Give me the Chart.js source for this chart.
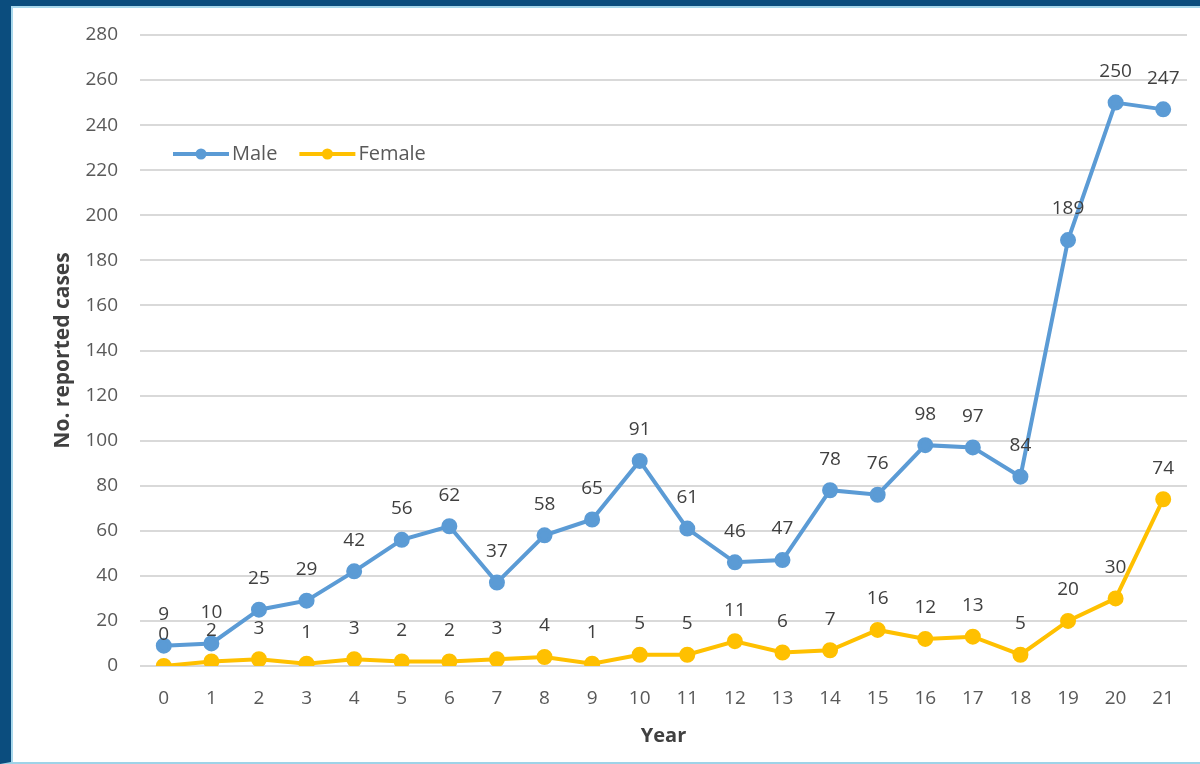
<!DOCTYPE html>
<html>
<head>
<meta charset="utf-8">
<script src="https://cdn.jsdelivr.net/npm/chart.js@4"></script>
<style>
  html, body { margin: 0; padding: 0; background: #fff; }
  #frame {
    position: absolute; left: 0; top: 0; width: 1200px; height: 764px;
    box-sizing: border-box;
    border-left: 11px solid #0b4d7e; border-top: 6px solid #0b4d7e;
    border-bottom: 2px solid #9ed3e8;
  }
  #inner {
    position: absolute; left: 0; top: 0; right: 0; bottom: 0;
    border-left: 2px solid #a8d8ec; border-top: 2px solid #a8d8ec;
  }
  #wrap { position: absolute; left: 0; top: 0; width: 1200px; height: 764px; }
</style>
</head>
<body>
<div id="frame"><div id="inner"></div></div>
<div id="wrap"><canvas id="chart"></canvas></div>
<script>
// data
var years = ["0","1","2","3","4","5","6","7","8","9","10","11","12","13","14","15","16","17","18","19","20","21"];
var male = [9, 10, 25, 29, 42, 56, 62, 37, 58, 65, 91, 61, 46, 47, 78, 76, 98, 97, 84, 189, 250, 247];
var female = [0, 2, 3, 1, 3, 2, 2, 3, 4, 1, 5, 5, 11, 6, 7, 16, 12, 13, 5, 20, 30, 74];
var seriesNames = ["Male", "Female"];

var FONT = "'Open Sans', 'Liberation Sans', sans-serif";

// value labels above each point
var pointLabels = {
    id: "pointLabels",
    afterDatasetsDraw: function (chart) {
        var ctx = chart.ctx;
        ctx.save();
        ctx.font = "19px " + FONT;
        ctx.fillStyle = "#404040";
        ctx.textAlign = "center";
        ctx.textBaseline = "middle";
        chart.data.datasets.forEach(function (ds, i) {
            chart.getDatasetMeta(i).data.forEach(function (el, j) {
                ctx.fillText(String(ds.data[j]), el.x, el.y - 31);
            });
        });
        ctx.restore();
    }
};

// legend drawn inside the plot, top left
var innerLegend = {
    id: "innerLegend",
    afterDraw: function (chart) {
        var ctx = chart.ctx;
        var a = chart.chartArea;
        var x = a.left + 33, y = 154;
        ctx.save();
        ctx.font = "20px " + FONT;
        ctx.textBaseline = "middle";
        chart.data.datasets.forEach(function (ds) {
            ctx.strokeStyle = ds.borderColor;
            ctx.lineWidth = 4;
            ctx.beginPath();
            ctx.moveTo(x, y);
            ctx.lineTo(x + 56, y);
            ctx.stroke();
            ctx.fillStyle = ds.borderColor;
            ctx.beginPath();
            ctx.arc(x + 28, y, 5.5, 0, Math.PI * 2);
            ctx.fill();
            ctx.fillStyle = "#595959";
            ctx.textAlign = "left";
            ctx.fillText(ds.label, x + 59, y);
            x += 59 + ctx.measureText(ds.label).width + 22;
        });
        ctx.restore();
    }
};

var chart = new Chart(document.getElementById("chart"), {
    type: "line",
    data: {
        labels: years,
        datasets: [
            {
                label: seriesNames[0],
                data: male,
                borderColor: "#5b9bd5",
                backgroundColor: "#5b9bd5",
                borderWidth: 4,
                pointRadius: 6,
                pointHoverRadius: 6,
                tension: 0
            },
            {
                label: seriesNames[1],
                data: female,
                borderColor: "#ffc000",
                backgroundColor: "#ffc000",
                borderWidth: 4,
                pointRadius: 6,
                pointHoverRadius: 6,
                tension: 0
            }
        ]
    },
    options: {
        responsive: true,
        maintainAspectRatio: false,
        animation: false,
        layout: { padding: { left: 46, top: 35, right: 13, bottom: 0 } },
        plugins: {
            legend: { display: false },
            tooltip: { enabled: false }
        },
        scales: {
            x: {
                offset: true,
                grid: { display: false, drawTicks: false },
                border: { display: false },
                ticks: { color: "#595959", font: { family: FONT, size: 19 }, padding: 21 },
                title: {
                    display: true, text: "Year", color: "#404040",
                    font: { family: FONT, size: 20, weight: "bold" },
                    padding: { top: 4, bottom: 16 }
                },
                afterFit: function (s) { s.height = 98; }
            },
            y: {
                min: 0,
                max: 280,
                ticks: { stepSize: 20, color: "#595959", font: { family: FONT, size: 19 }, padding: 22 },
                grid: { color: "#d9d9d9", lineWidth: 2, drawTicks: false },
                border: { display: false },
                title: {
                    display: true, text: "No. reported cases", color: "#404040",
                    font: { family: FONT, size: 21, weight: "bold" },
                    padding: { top: 4, bottom: 4 }
                },
                afterFit: function (s) { s.width = 94; }
            }
        }
    },
    plugins: [pointLabels, innerLegend]
});
</script>
</body>
</html>
